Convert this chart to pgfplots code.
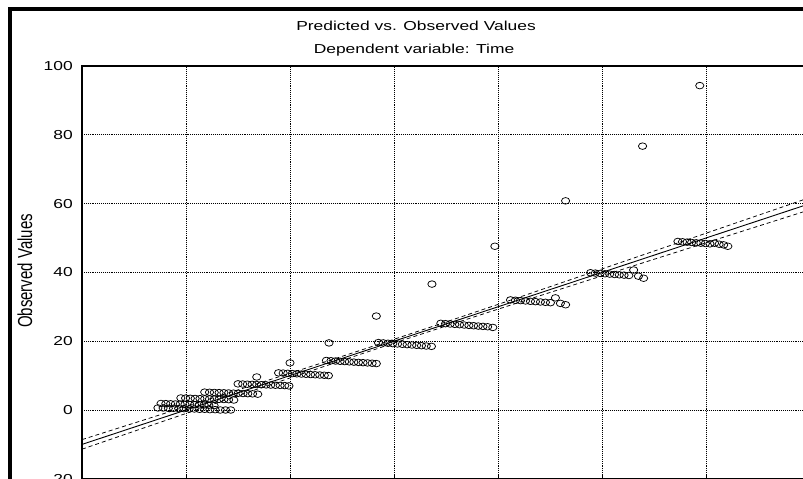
\documentclass[border=0pt]{standalone}
\usepackage{pgfplots}
\pgfplotsset{compat=1.18}
\usepackage{pgfplotstable}
\usepackage{fontspec}
\usepackage{graphicx}
\newfontfamily\wfont[FakeStretch=1.34]{Liberation Sans}
\newfontfamily\nfont{Liberation Sans}

\pgfplotstableread{
x y
-2.7 0.6
-2.2 0.6
-1.7 0.5
-1.2 0.5
-0.7 0.4
-0.2 0.4
0.3 0.3
0.8 0.3
1.3 0.2
1.8 0.2
2.3 0.1
2.8 0.1
3.3 0.0
3.8 0.0
4.3 0.0
-2.4 1.9
-1.94 1.85
-1.48 1.8
-1.02 1.75
-0.56 1.7
-0.1 1.65
0.36 1.6
0.82 1.55
1.28 1.5
1.74 1.45
2.2 1.4
2.7 1.3
-0.5 3.5
-0.04 3.45
0.42 3.4
0.88 3.35
1.34 3.3
1.8 3.25
2.26 3.2
2.72 3.15
3.18 3.1
3.64 3.05
4.1 3.0
4.6 2.9
1.8 5.2
2.26 5.15
2.72 5.1
3.18 5.05
3.64 5.0
4.1 4.95
4.56 4.9
5.02 4.85
5.48 4.8
5.94 4.75
6.4 4.7
6.9 4.6
5.0 7.6
5.45 7.55
5.9 7.5
6.35 7.45
6.8 7.4
7.25 7.35
7.7 7.3
8.15 7.25
8.6 7.2
9.05 7.15
9.5 7.1
9.9 7.0
8.9 10.8
9.34 10.73
9.78 10.66
10.22 10.59
10.66 10.52
11.1 10.45
11.54 10.38
11.98 10.31
12.42 10.24
12.86 10.17
13.3 10.1
13.7 10.0
13.5 14.4
13.94 14.32
14.38 14.24
14.82 14.16
15.26 14.08
15.7 14.0
16.14 13.92
16.58 13.84
17.02 13.76
17.46 13.68
17.9 13.6
18.3 13.5
18.5 19.6
18.96 19.5
19.42 19.4
19.88 19.3
20.34 19.2
20.8 19.1
21.26 19.0
21.72 18.9
22.18 18.8
22.64 18.7
23.1 18.6
23.6 18.5
24.5 25.2
24.95 25.1
25.4 25.0
25.85 24.9
26.3 24.8
26.75 24.7
27.2 24.6
27.65 24.5
28.1 24.4
28.55 24.3
29.0 24.2
29.5 24.0
31.2 32.0
31.68 31.9
32.16 31.8
32.64 31.7
33.12 31.6
33.6 31.5
34.08 31.4
34.56 31.3
35.04 31.2
35.52 32.6
36.0 31.0
36.5 30.6
38.9 39.9
39.36 39.8
39.82 39.7
40.28 39.6
40.74 39.5
41.2 39.4
41.66 39.3
42.12 39.2
42.58 39.1
43.04 40.7
43.5 38.9
44.0 38.3
47.3 49.0
47.74 48.9
48.18 48.8
48.62 48.7
49.06 48.6
49.5 48.5
49.94 48.4
50.38 48.3
50.82 48.5
51.26 48.2
51.7 48.0
52.1 47.6
6.8 9.6
10.0 13.7
13.75 19.5
18.3 27.3
23.65 36.6
29.7 47.6
36.5 60.8
43.9 76.7
49.4 94.3
}\pts

\begin{document}
\begin{tikzpicture}
\useasboundingbox[fill=white] (0pt,0pt) rectangle (803pt,479pt);
\begin{scope}
\clip (0pt,0pt) rectangle (803pt,479pt);
\begin{axis}[
  at={(82pt,413pt)}, anchor=north west,
  scale only axis, width=728pt, height=412.8pt,
  xmin=-10, xmax=60, ymin=-20, ymax=100,
  xtick={-10,0,...,60}, ytick={-20,0,...,100},
  grid=major,
  major grid style={black, line width=0.75pt, dash pattern=on 0.9pt off 1pt},
  axis line style={black, line width=1.2pt},
  xtick pos=bottom, tick align=inside, major tick length=5pt,
  xtick style={black, line width=1pt},
  ytick style={draw=none},
  xticklabels={},
  /pgf/number format/assume math mode=true,
  yticklabel style={font=\wfont\fontsize{13}{15}\selectfont, anchor=east, inner sep=0pt, xshift=-9pt},
]
\addplot[only marks, mark=o, mark size=3.3pt, mark options={fill=white, draw=black, line width=0.75pt, xscale=1.25}] table[x=x, y=y] {\pts};
\addplot[black, line width=0.9pt] coordinates {(-10,-10) (60,60)};
\addplot[black, line width=0.75pt, dash pattern=on 4pt off 3pt] coordinates {
(-10,-8.61) (-5,-3.81) (0,1.01) (5,5.84) (10,10.69) (15,15.59) (20,20.55) (25,25.59) (30,30.69) (35,35.84) (40,41.01) (45,46.19) (50,51.39) (55,56.58) (60,61.78)};
\addplot[black, line width=0.75pt, dash pattern=on 4pt off 3pt] coordinates {
(-10,-11.39) (-5,-6.19) (0,-1.01) (5,4.16) (10,9.31) (15,14.41) (20,19.45) (25,24.41) (30,29.31) (35,34.16) (40,38.99) (45,43.81) (50,48.61) (55,53.42) (60,58.22)};
\end{axis}
\node[anchor=base, inner sep=0pt] at (416pt,448.5pt) {\wfont\fontsize{13}{15}\selectfont Predicted vs. Observed Values};
\node[anchor=base, inner sep=0pt] at (414pt,425pt) {\wfont\fontsize{13}{15}\selectfont Dependent variable: Time};
\node[inner sep=0pt] at (25pt,208pt) {\scalebox{1.35}[1]{\rotatebox{90}{\nfont\fontsize{15}{18}\selectfont Observed Values}}};
\draw[black, line width=4pt] (9.5pt,-10pt) -- (9.5pt,469.5pt) -- (815pt,469.5pt);
\end{scope}
\end{tikzpicture}
\end{document}
